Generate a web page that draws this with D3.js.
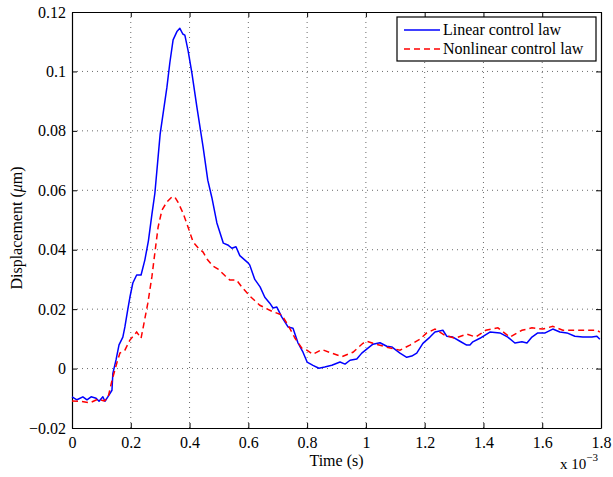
<!DOCTYPE html>
<html>
<head>
<meta charset="utf-8">
<script src="https://cdn.jsdelivr.net/npm/d3@7"></script>
<style>
  body { margin: 0; background: #fff; }
  svg text { font-family: "Liberation Serif", "DejaVu Serif", serif; fill: #000; }
</style>
</head>
<body>
<svg id="chart" width="613" height="477"></svg>
<script>
// time in units of 1e-3 s
const linTime = [0, 0.017, 0.037, 0.051, 0.065, 0.082, 0.092, 0.105, 0.112, 0.122, 0.136, 0.139, 0.150, 0.160, 0.173,
  0.180, 0.190, 0.197, 0.207, 0.220, 0.235, 0.248, 0.260, 0.272, 0.282, 0.300, 0.323, 0.333, 0.344, 0.357, 0.367,
  0.377, 0.384, 0.395, 0.408, 0.425, 0.446, 0.462, 0.476, 0.493, 0.515, 0.530, 0.544, 0.558, 0.571, 0.600, 0.605,
  0.622, 0.640, 0.656, 0.673, 0.684, 0.697, 0.714, 0.735, 0.752, 0.769, 0.786, 0.800, 0.820, 0.840, 0.860, 0.884,
  0.912, 0.929, 0.946, 0.969, 0.986, 1.007, 1.024, 1.048, 1.071, 1.088, 1.116, 1.139, 1.156, 1.173, 1.194, 1.218,
  1.235, 1.262, 1.275, 1.296, 1.320, 1.343, 1.354, 1.364, 1.388, 1.422, 1.456, 1.483, 1.507, 1.531, 1.548, 1.565,
  1.585, 1.610, 1.636, 1.660, 1.684, 1.711, 1.738, 1.769, 1.786, 1.796];
const linDisp = [-0.0095, -0.0105, -0.0095, -0.0105, -0.0095, -0.0100, -0.0110, -0.0095, -0.0110, -0.0095, -0.0073,
  -0.0016, 0.0030, 0.0080, 0.0106, 0.0140, 0.0200, 0.0240, 0.0288, 0.0315, 0.0315, 0.0366, 0.0430, 0.0520, 0.0590,
  0.0790, 0.0947, 0.1030, 0.1106, 0.1134, 0.1145, 0.1126, 0.1122, 0.1070, 0.0994, 0.0880, 0.0746, 0.0634, 0.0575,
  0.0490, 0.0422, 0.0416, 0.0405, 0.0410, 0.0380, 0.0355, 0.0348, 0.0300, 0.0275, 0.0240, 0.0220, 0.0204, 0.0207,
  0.0173, 0.0140, 0.0136, 0.0086, 0.0055, 0.0022, 0.0011, 0.0001, 0.0005, 0.0011, 0.0022, 0.0015, 0.0028, 0.0032,
  0.0052, 0.0069, 0.0082, 0.0087, 0.0075, 0.0073, 0.0052, 0.0038, 0.0042, 0.0052, 0.0085, 0.0106, 0.0123, 0.0129,
  0.0109, 0.0106, 0.0092, 0.0079, 0.0079, 0.0090, 0.0102, 0.0123, 0.0120, 0.0106, 0.0086, 0.0090, 0.0086, 0.0106,
  0.0120, 0.0120, 0.0133, 0.0123, 0.0120, 0.0109, 0.0106, 0.0106, 0.0109, 0.0099];

const nonTime = [0, 0.030, 0.061, 0.088, 0.109, 0.122, 0.136, 0.153, 0.163, 0.180, 0.197, 0.220, 0.235, 0.245, 0.258,
  0.272, 0.282, 0.293, 0.306, 0.323, 0.340, 0.350, 0.360, 0.378, 0.395, 0.412, 0.430, 0.446, 0.462, 0.480, 0.497,
  0.520, 0.537, 0.560, 0.578, 0.605, 0.639, 0.680, 0.714, 0.735, 0.759, 0.782, 0.799, 0.820, 0.850, 0.884, 0.918,
  0.956, 0.990, 1.003, 1.024, 1.071, 1.116, 1.150, 1.184, 1.207, 1.235, 1.269, 1.303, 1.344, 1.374, 1.408, 1.449,
  1.490, 1.531, 1.565, 1.602, 1.636, 1.670, 1.704, 1.752, 1.786, 1.796];
const nonDisp = [-0.0109, -0.0110, -0.0115, -0.0103, -0.0109, -0.0100, -0.0040, 0.0020, 0.0052, 0.0062, 0.0096,
  0.0123, 0.0102, 0.0153, 0.0220, 0.0310, 0.0390, 0.0476, 0.0533, 0.0561, 0.0578, 0.0577, 0.0561, 0.0523, 0.0476,
  0.0426, 0.0405, 0.0392, 0.0365, 0.0345, 0.0335, 0.0313, 0.0298, 0.0298, 0.0274, 0.0244, 0.0213, 0.0193, 0.0180,
  0.0146, 0.0102, 0.0069, 0.0062, 0.0048, 0.0064, 0.0052, 0.0040, 0.0055, 0.0085, 0.0092, 0.0085, 0.0072, 0.0062,
  0.0079, 0.0099, 0.0120, 0.0133, 0.0112, 0.0102, 0.0116, 0.0106, 0.0129, 0.0137, 0.0106, 0.0129, 0.0137, 0.0133,
  0.0142, 0.0129, 0.0129, 0.0129, 0.0129, 0.0123];

const xTicks = [0, 0.2, 0.4, 0.6, 0.8, 1, 1.2, 1.4, 1.6, 1.8];
const yTicks = [-0.02, 0, 0.02, 0.04, 0.06, 0.08, 0.1, 0.12];
const seriesNames = ['Linear control law', 'Nonlinear control law'];

const svg = d3.select('#chart');
const margin = {left: 72, top: 12, right: 12, bottom: 49};
const width = 613 - margin.left - margin.right;
const height = 477 - margin.top - margin.bottom;

const x = d3.scaleLinear().domain([0, 1.8]).range([0, width]);
const y = d3.scaleLinear().domain([-0.02, 0.12]).range([height, 0]);

const g = svg.append('g').attr('transform', `translate(${margin.left},${margin.top})`);

// grid
g.append('g').selectAll('line').data(xTicks.slice(1, -1)).join('line')
  .attr('x1', d => x(d)).attr('x2', d => x(d)).attr('y1', 0).attr('y2', height)
  .attr('stroke', '#444').attr('stroke-width', 0.8).attr('stroke-dasharray', '1,4');
g.append('g').selectAll('line').data(yTicks.slice(1, -1)).join('line')
  .attr('y1', d => y(d)).attr('y2', d => y(d)).attr('x1', 0).attr('x2', width)
  .attr('stroke', '#444').attr('stroke-width', 0.8).attr('stroke-dasharray', '1,4');

const fmtX = d => d3.format('~g')(d);
const fmtY = d => d === 0 ? '0' : d3.format('~g')(d).replace('-', '\u2212');

// axes, ticks inward
const tickLen = 5;
const axB = g.append('g').attr('transform', `translate(0,${height})`)
  .call(d3.axisBottom(x).tickValues(xTicks).tickFormat(fmtX).tickSizeInner(-tickLen).tickSizeOuter(0).tickPadding(9));
const axT = g.append('g')
  .call(d3.axisTop(x).tickValues(xTicks).tickFormat('').tickSizeInner(-tickLen).tickSizeOuter(0));
const axL = g.append('g')
  .call(d3.axisLeft(y).tickValues(yTicks).tickFormat(fmtY).tickSizeInner(-tickLen).tickSizeOuter(0).tickPadding(9));
const axR = g.append('g').attr('transform', `translate(${width},0)`)
  .call(d3.axisRight(y).tickValues(yTicks).tickFormat('').tickSizeInner(-tickLen).tickSizeOuter(0));

[axB, axT, axL, axR].forEach(a => {
  a.select('.domain').attr('stroke', '#000').attr('stroke-width', 1.2);
  a.selectAll('.tick line').attr('stroke', '#000').attr('stroke-width', 1);
  a.selectAll('text').attr('font-size', 16).attr('font-family', '"Liberation Serif", serif').attr('fill', '#000');
});
axL.selectAll('text').attr('dx', 3);

// lines
const line = d3.line().x(d => x(d[0])).y(d => y(d[1]));
const linData = linTime.map((t, i) => [t, linDisp[i]]);
const nonData = nonTime.map((t, i) => [t, nonDisp[i]]);

g.append('path').datum(linData).attr('d', line)
  .attr('fill', 'none').attr('stroke', '#0000ff').attr('stroke-width', 1.5).attr('stroke-linejoin', 'round');
g.append('path').datum(nonData).attr('d', line)
  .attr('fill', 'none').attr('stroke', '#ff0000').attr('stroke-width', 1.5).attr('stroke-dasharray', '6,4');

// labels
svg.append('text').attr('x', margin.left + width / 2).attr('y', 466)
  .attr('text-anchor', 'middle').attr('font-size', 16).text('Time (s)');
svg.append('text').attr('transform', `translate(22,${margin.top + height / 2 + 8}) rotate(-90)`)
  .attr('text-anchor', 'middle').attr('font-size', 16)
  .call(t => {
    t.append('tspan').text('Displacement (');
    t.append('tspan').attr('font-style', 'italic').text('\u03bc');
    t.append('tspan').text('m)');
  });
const expo = svg.append('text').attr('x', 560).attr('y', 469).attr('font-size', 15);
expo.append('tspan').text('x 10');
expo.append('tspan').attr('dy', -8).attr('font-size', 11).text('\u22123');

// legend
const leg = svg.append('g').attr('transform', 'translate(397,17)');
leg.append('rect').attr('width', 199).attr('height', 44)
  .attr('fill', '#fff').attr('stroke', '#000').attr('stroke-width', 1.2);
const legColors = ['#0000ff', '#ff0000'];
seriesNames.forEach((name, i) => {
  const ly = 13 + i * 19;
  leg.append('line').attr('x1', 7).attr('x2', 43).attr('y1', ly).attr('y2', ly)
    .attr('stroke', legColors[i]).attr('stroke-width', 1.5)
    .attr('stroke-dasharray', i === 1 ? '6,4' : null);
  leg.append('text').attr('x', 46).attr('y', ly + 5).attr('font-size', 16).text(name);
});
</script>
</body>
</html>
